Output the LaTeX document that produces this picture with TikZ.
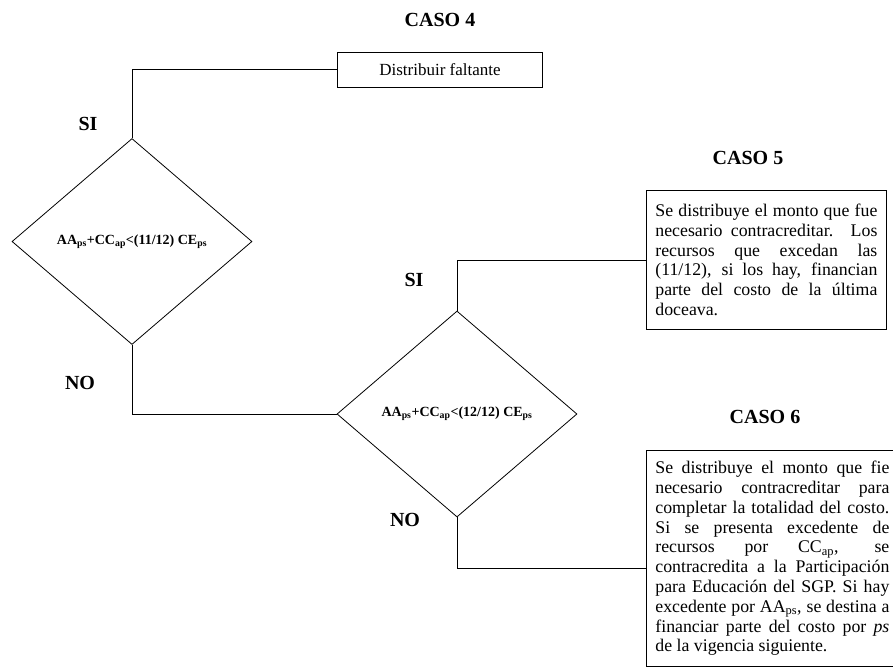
\documentclass[tikz,border=0pt]{standalone}
\usepackage{fontspec}
\setmainfont{Liberation Serif}
\usetikzlibrary{shapes.geometric}
\tolerance=10000
\hbadness=10000
\hyphenpenalty=10000

\begin{document}
\begin{tikzpicture}[x=1pt, y=-1pt, line width=0.8pt,
        every node/.append style={inner sep=0pt},
        every diamond node/.append style={draw, minimum width=240pt, minimum height=206pt,
          font=\fontsize{14}{16}\selectfont\bfseries}]
      \tikzstyle{caso} = [font=\fontsize{20}{22}\selectfont\bfseries]
      \tikzstyle{resp} = [font=\fontsize{20}{22}\selectfont\bfseries]
      \tikzstyle{caja} = [draw, anchor=north west, align=justify, inner xsep=9pt,
          font=\fontsize{17.8}{19.8}\selectfont]
      \useasboundingbox (0,0) rectangle (893,670);
      \node (Caso4) [caso] at (440,20) {CASO 4};
      \node (Faltante) [draw, minimum width=205pt, minimum height=35pt,
          font=\fontsize{17}{19}\selectfont] at (440,69.5) {Distribuir faltante};
      \node (Cond1) [diamond] at (132,241.5)
          {AA\textsubscript{ps}+CC\textsubscript{ap}<(11/12) CE\textsubscript{ps}};
      \node (Cond2) [diamond] at (457,414)
          {AA\textsubscript{ps}+CC\textsubscript{ap}<(12/12) CE\textsubscript{ps}};
      \node (Caso5) [caso] at (748,158) {CASO 5};
      \node (Caja5) [caja, text width=222pt, minimum height=139pt] at (646,190)
          {Se distribuye el monto que fue\linebreak
           necesario contracreditar. Los\linebreak
           recursos que excedan las\linebreak
           (11/12), si los hay, financian\linebreak
           parte del costo de la última\linebreak
           doceava.};
      \node (Caso6) [caso] at (765,417) {CASO 6};
      \node (Caja6) [caja, text width=234pt, minimum height=216pt] at (646,450)
          {Se distribuye el monto que fie\linebreak
           necesario contracreditar para\linebreak
           completar la totalidad del costo.\linebreak
           Si se presenta excedente de\linebreak
           recursos por CC\textsubscript{ap}, se\linebreak
           contracredita a la Participación\linebreak
           para Educación del SGP. Si hay\linebreak
           excedente por AA\textsubscript{ps}, se destina a\linebreak
           financiar parte del costo por \textit{ps}\linebreak
           de la vigencia siguiente.};
      \node (Si1) [resp] at (88,124) {SI};
      \node (No1) [resp] at (80,383) {NO};
      \node (Si2) [resp] at (414,280) {SI};
      \node (No2) [resp] at (405,520) {NO};
      \draw (Cond1.north) |- (Faltante.west);
      \draw (Cond1.south) |- (Cond2.west);
      \draw (Cond2.north) |- (Caja5.west);
      \draw (Cond2.south) |- ([yshift=-10pt]Caja6.west);
\end{tikzpicture}
\end{document}
